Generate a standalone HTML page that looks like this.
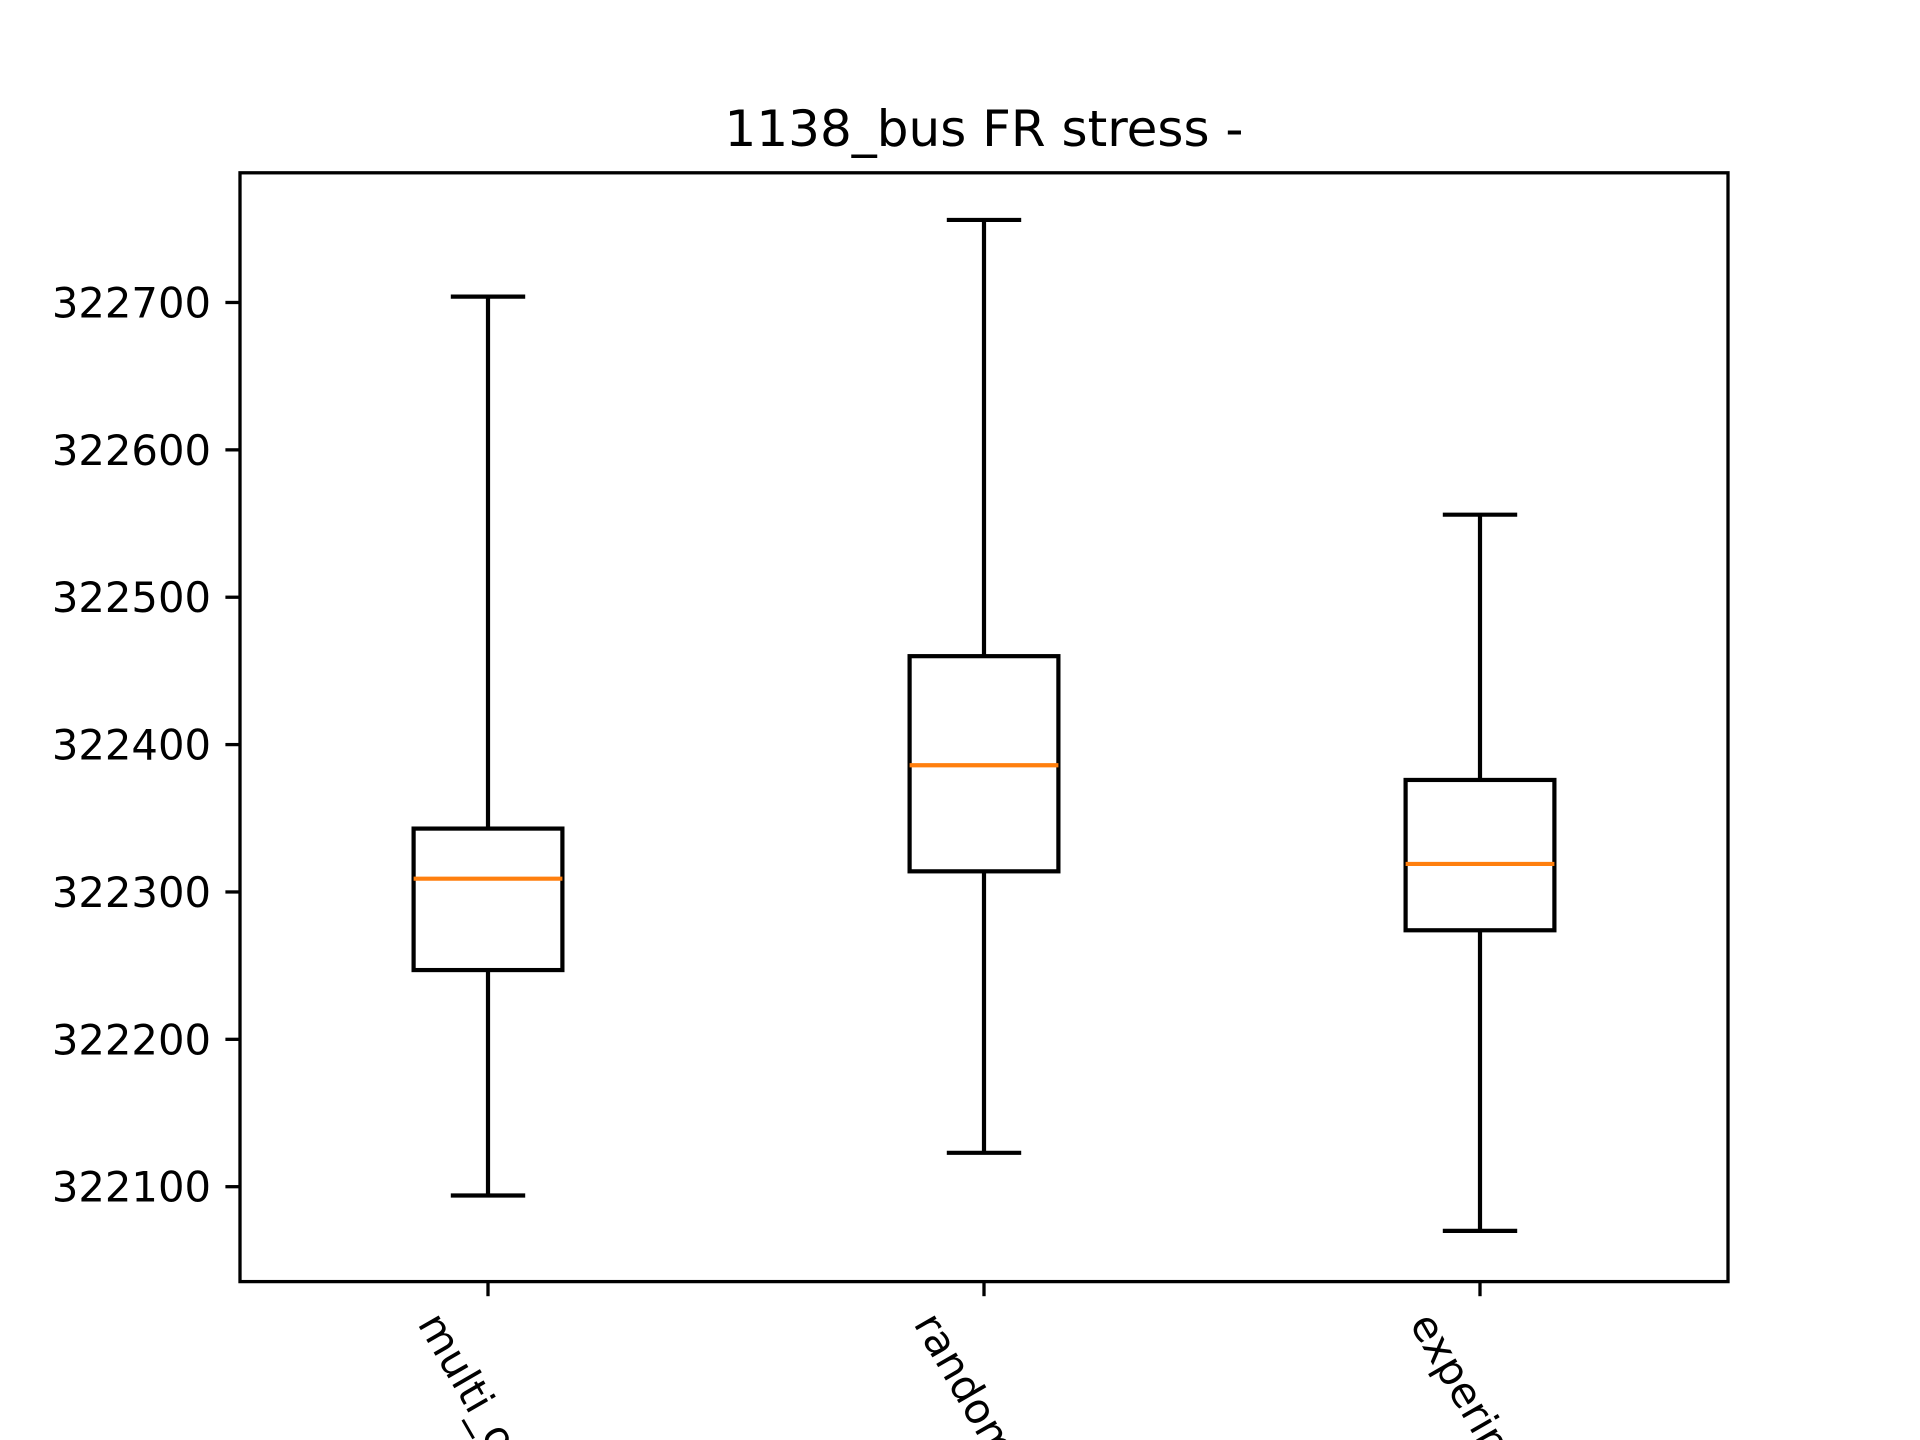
<!DOCTYPE html>
<html><head><meta charset="utf-8"><style>
html,body{margin:0;padding:0;background:#fff;overflow:hidden;width:1920px;height:1440px;}
svg{display:block;font-family:"DejaVu Sans","Liberation Sans",sans-serif;}
</style></head><body>
<svg id="chart" width="1920" height="1440" viewBox="0 0 1920 1440" overflow="hidden">
<rect width="1920" height="1440" fill="#fff"/>
<text x="984" y="146" font-size="50" text-anchor="middle">1138_bus FR stress -</text>
<g id="plot"></g>
</svg>
<script>
const categories = ["multi_objective", "random", "experiment"];
const whiskerLow = [322094, 322123, 322070];
const q1 = [322247, 322314, 322274];
const median = [322309, 322386, 322319];
const q3 = [322343, 322460, 322376];
const whiskerHigh = [322704, 322756, 322556];
const yTicks = [322100, 322200, 322300, 322400, 322500, 322600, 322700];

const L = 240, R = 1728, T = 172.8, B = 1281.6;
const yMin = 322035.6, yMax = 322788;
const xMin = 0.5, xMax = 3.5;
const sx = v => L + (v - xMin) / (xMax - xMin) * (R - L);
const sy = v => B - (v - yMin) / (yMax - yMin) * (B - T);
const NS = "http://www.w3.org/2000/svg";
const g = document.getElementById("plot");
function mk(tag, attrs, parent) {
  const e = document.createElementNS(NS, tag);
  for (const k in attrs) e.setAttribute(k, attrs[k]);
  (parent || g).appendChild(e);
  return e;
}
const lw = 4.2;
categories.forEach((c, i) => {
  const grp = mk("g", {});
  
  
  const x = sx(i + 1), hw = 0.15 * (R - L) / (xMax - xMin), cw = hw / 2;
  const common = {stroke: "#000", "stroke-width": lw, fill: "none"};
  const w1 = mk("line", Object.assign({x1: x, x2: x, y1: sy(whiskerLow[i]), y2: sy(q1[i])}, common), grp);
  
  
  const w2 = mk("line", Object.assign({x1: x, x2: x, y1: sy(q3[i]), y2: sy(whiskerHigh[i])}, common), grp);
  
  
  const c1 = mk("line", Object.assign({x1: x - cw, x2: x + cw, y1: sy(whiskerLow[i]), y2: sy(whiskerLow[i])}, common), grp);
  
  
  const c2 = mk("line", Object.assign({x1: x - cw, x2: x + cw, y1: sy(whiskerHigh[i]), y2: sy(whiskerHigh[i])}, common), grp);
  
  
  const bx = mk("rect", Object.assign({x: x - hw, y: sy(q3[i]), width: 2 * hw, height: sy(q1[i]) - sy(q3[i])}, common), grp);
  
  
  const md = mk("line", {x1: x - hw, x2: x + hw, y1: sy(median[i]), y2: sy(median[i]), stroke: "#ff7f0e", "stroke-width": lw}, grp);
  
  
  const tk = mk("line", {x1: x, x2: x, y1: B, y2: B + 14.6, stroke: "#000", "stroke-width": 3.3});
  
  
  const tx = mk("text", {x: 0, y: 0, "font-size": 41.7, "dominant-baseline": "hanging",
    transform: "translate(" + (x - 44) + "," + 1308 + ") rotate(60)"});
  tx.textContent = c;
  
  
});
yTicks.forEach(v => {
  const y = sy(v);
  const tk = mk("line", {x1: L - 14.6, x2: L, y1: y, y2: y, stroke: "#000", "stroke-width": 3.3});
  
  
  const tx = mk("text", {x: L - 29, y: y + 15, "font-size": 41.7, "text-anchor": "end"});
  tx.textContent = v;
  
  
});
const frame = mk("rect", {x: L, y: T, width: R - L, height: B - T, fill: "none", stroke: "#000", "stroke-width": 3.3});


</script>
</body></html>
